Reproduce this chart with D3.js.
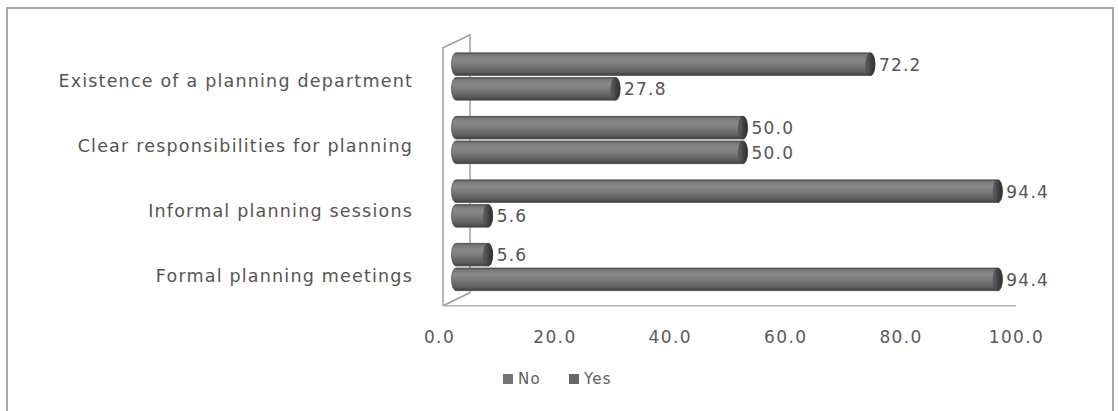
<!DOCTYPE html>
<html>
<head>
<meta charset="utf-8">
<script src="https://cdn.jsdelivr.net/npm/d3@7/dist/d3.min.js"></script>
<style>
  html, body { margin: 0; padding: 0; background: #fff; }
  svg { display: block; }
  text { font-family: "DejaVu Sans", Verdana, sans-serif; }
</style>
</head>
<body>
<svg id="chart" width="1118" height="411"></svg>
<script>
// Survey items, listed top to bottom
const categories = [
  "Existence of a planning department",
  "Clear responsibilities for planning",
  "Informal planning sessions",
  "Formal planning meetings"
];
const seriesNames = ["No", "Yes"];
const noValues  = [27.8, 50.0, 5.6, 94.4];
const yesValues = [72.2, 50.0, 94.4, 5.6];
const tickValues = [0, 20, 40, 60, 80, 100];

const rows = categories.map((c, i) => ({ category: c, No: noValues[i], Yes: yesValues[i] }));

const svg = d3.select("#chart");

// Outer frame
svg.append("rect")
  .attr("x", 7).attr("y", 8).attr("width", 1106).attr("height", 410)
  .attr("fill", "#fff").attr("stroke", "#a0a0a0").attr("stroke-width", 1.8);

// 3-D projection: bars sit mid-depth, axis labels on the front plane
const xBar   = d3.scaleLinear().domain([0, 100]).range([456, 1030]);
const xFront = d3.scaleLinear().domain([0, 100]).range([439, 1016]);
const wallX = 443, depthX = 27, depthY = -13;

const y = d3.scaleBand().domain(categories).range([44.75, 298.75]);
// Category labels sit on the front plane, slightly lower and wider spaced
const yLabel = d3.scaleBand().domain(categories).range([43.2, 303.2]);
// Within a category the first series sits at the bottom
const ySeries = d3.scaleBand().domain(["Yes", "No"])
  .range([0, y.bandwidth()]).paddingInner(0.08).paddingOuter(0.33);

const defs = svg.append("defs");
const body = defs.append("linearGradient").attr("id", "cyl")
  .attr("x1", 0).attr("y1", 0).attr("x2", 0).attr("y2", 1);
[[0, "#4e4e4e"], [0.08, "#777"], [0.3, "#898989"], [0.55, "#787878"],
 [0.85, "#5b5b5b"], [1, "#404040"]].forEach(([o, c]) =>
  body.append("stop").attr("offset", o).attr("stop-color", c));
const cap = defs.append("linearGradient").attr("id", "cap")
  .attr("x1", 0).attr("y1", 0).attr("x2", 1).attr("y2", 0);
[[0, "#666"], [0.5, "#434343"], [1, "#303030"]].forEach(([o, c]) =>
  cap.append("stop").attr("offset", o).attr("stop-color", c));

// Side wall and floor edges
const floorY = y.range()[1] + 7, wallTop = y.range()[0] + 3;
const wall = svg.append("g").attr("fill", "none").attr("stroke", "#9a9a9a").attr("stroke-width", 1.4);
wall.append("path").attr("d",
  `M${wallX},${floorY} L${wallX},${wallTop} L${wallX + depthX},${wallTop + depthY} L${wallX + depthX},${floorY + depthY}`);
wall.append("path").attr("d", `M${wallX},${floorY} L${wallX + depthX},${floorY + depthY}`);
wall.append("line")
  .attr("x1", wallX).attr("x2", xFront(100))
  .attr("y1", floorY).attr("y2", floorY)
  .attr("stroke", "#b5b5b5");

// Cylindrical bars
const rx = 4.5;
const bars = [];
rows.forEach(r => seriesNames.forEach(s => bars.push({ category: r.category, series: s, value: r[s] })));

const bar = svg.append("g").selectAll("g.bar").data(bars).join("g").attr("class", "bar");

bar.append("path")
  .attr("d", d => {
    const top = y(d.category) + ySeries(d.series);
    const h = ySeries.bandwidth(), ry = h / 2;
    const xa = xBar(0), xb = xBar(d.value);
    return `M${xa},${top} L${xb},${top} A${rx},${ry} 0 0 1 ${xb},${top + h} ` +
           `L${xa},${top + h} A${rx},${ry} 0 0 1 ${xa},${top} Z`;
  })
  .attr("fill", "url(#cyl)")
  .attr("stroke", "#4a4a4a").attr("stroke-width", 0.7);

bar.append("ellipse")
  .attr("cx", d => xBar(d.value))
  .attr("cy", d => y(d.category) + ySeries(d.series) + ySeries.bandwidth() / 2)
  .attr("rx", rx)
  .attr("ry", ySeries.bandwidth() / 2)
  .attr("fill", "url(#cap)")
  .attr("stroke", "#3a3a3a").attr("stroke-width", 0.6);

// Value labels
bar.append("text")
  .attr("x", d => xBar(d.value) + rx + 4)
  .attr("y", d => y(d.category) + ySeries(d.series) + ySeries.bandwidth() / 2 + 6.5)
  .attr("font-size", 17)
  .attr("letter-spacing", 1.2)
  .attr("fill", "#555")
  .text(d => d.value.toFixed(1));

// Category labels
svg.append("g").selectAll("text").data(categories).join("text")
  .attr("x", 413)
  .attr("y", d => yLabel(d) + yLabel.bandwidth() / 2 + 11)
  .attr("text-anchor", "end")
  .attr("font-size", 17.5)
  .attr("letter-spacing", 1.2)
  .attr("fill", "#555")
  .text(d => d);

// Value axis on the front plane
const axis = d3.axisBottom(xFront).tickValues(tickValues)
  .tickFormat(d3.format(".1f")).tickSize(0).tickPadding(0);
const ax = svg.append("g").attr("transform", `translate(0,${floorY + 25})`).call(axis);
ax.select(".domain").remove();
ax.selectAll("text")
  .attr("font-size", 17)
  .attr("letter-spacing", 1.4)
  .attr("fill", "#5a5a5a")
  .attr("font-family", "DejaVu Sans, Verdana, sans-serif");

// Legend
const legend = svg.append("g").attr("transform", "translate(503,383)");
const legendX = d3.scalePoint().domain(seriesNames).range([0, 66]);
const li = legend.selectAll("g").data(seriesNames).join("g")
  .attr("transform", d => `translate(${legendX(d)},0)`);
li.append("rect").attr("x", 0).attr("y", -9).attr("width", 10).attr("height", 10)
  .attr("fill", (d, i) => i === 0 ? "#747474" : "#666");
li.append("text").attr("x", 15).attr("y", 1)
  .attr("font-size", 15).attr("letter-spacing", 1.2).attr("fill", "#5e5e5e")
  .text(d => d);
</script>
</body>
</html>
